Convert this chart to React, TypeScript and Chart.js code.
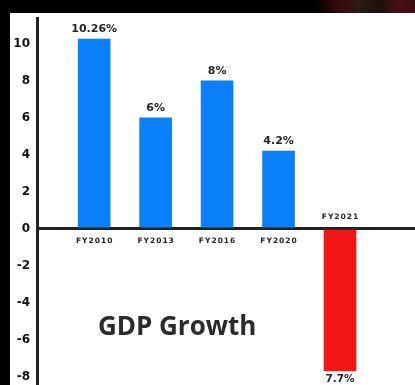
import React, { useEffect, useRef } from "react";
import { Chart, registerables } from "chart.js";

Chart.register(...registerables);

// Fiscal years and their GDP growth rate (%)
const categories = ["FY2010", "FY2013", "FY2016", "FY2020", "FY2021"];
const growth = [10.26, 6, 8, 4.2, -7.7];
const valueLabels = ["10.26%", "6%", "8%", "4.2%", "7.7%"];
const yTicks = [-8, -6, -4, -2, 0, 2, 4, 6, 8, 10];
const title = "GDP Growth";

const BLUE = "#0a80fb";
const RED = "#f31616";
const INK = "#262626";
const FONT = "'Open Sans', 'DejaVu Sans', sans-serif";
const SMALL_FONT = "'DejaVu Sans', sans-serif";

// Dark frame with a white panel behind the chart
const framePlugin = {
  id: "frame",
  beforeDraw(chart: any) {
    const { ctx, width, height } = chart;
    ctx.save();
    ctx.fillStyle = "#000";
    ctx.fillRect(0, 0, width, height);
    const g = ctx.createLinearGradient(315, 0, width, 0);
    g.addColorStop(0, "rgba(0,0,0,1)");
    g.addColorStop(0.25, "#3a0c0c");
    g.addColorStop(0.45, "#2a1c12");
    g.addColorStop(0.65, "#1c1010");
    g.addColorStop(0.85, "#4a0e10");
    g.addColorStop(1, "#3a1010");
    ctx.fillStyle = g;
    ctx.fillRect(315, 0, width - 315, 13);
    ctx.fillStyle = "#ffffff";
    ctx.fillRect(10, 13, width - 10, height - 13);
    ctx.restore();
  },
};

// Value labels, category labels beside the zero line, and the title
const labelsPlugin = {
  id: "barLabels",
  afterDatasetsDraw(chart: any) {
    const { ctx } = chart;
    const meta = chart.getDatasetMeta(0);
    const yScale = chart.scales.y;
    const xScale = chart.scales.x;
    const zero = yScale.getPixelForValue(0);
    ctx.save();
    ctx.textAlign = "center";
    meta.data.forEach((bar: any, i: number) => {
      const v = growth[i];
      const x = bar.x;
      ctx.fillStyle = INK;
      (ctx as any).letterSpacing = "0px";
      if (v >= 0) {
        ctx.font = `bold 11px ${SMALL_FONT}`;
        ctx.textBaseline = "alphabetic";
        ctx.fillText(valueLabels[i], x, bar.y - 7);
      } else {
        ctx.font = `bold 10.5px ${SMALL_FONT}`;
        ctx.textBaseline = "top";
        ctx.fillText(valueLabels[i], x, Math.min(bar.y + 3, chart.height - 11));
      }
      ctx.font = `bold 7.5px ${SMALL_FONT}`;
      (ctx as any).letterSpacing = "1px";
      ctx.textBaseline = "middle";
      ctx.fillText(categories[i], x + 0.5, v >= 0 ? zero + 12 : zero - 12);
    });
    (ctx as any).letterSpacing = "0px";
    ctx.font = `bold 26px ${FONT}`;
    ctx.fillStyle = "#2b2b2b";
    ctx.textBaseline = "middle";
    ctx.fillText(title, xScale.getPixelForValue(1.35), yScale.getPixelForValue(-5.35));
    ctx.restore();
  },
};

export default function App() {
  const canvasRef = useRef<HTMLCanvasElement | null>(null);

  useEffect(() => {
    if (!canvasRef.current) return;
    const chart = new Chart(canvasRef.current, {
      type: "bar",
      data: {
        datasets: [
          {
            label: title,
            data: growth.map((v, i) => ({ x: i, y: v })),
            backgroundColor: growth.map((v) => (v >= 0 ? BLUE : RED)),
            borderWidth: 0,
            barThickness: 32,
          },
        ],
      },
      options: {
        responsive: false,
        animation: false,
        devicePixelRatio: 1,
        layout: { padding: { left: 10, top: 18, right: 0, bottom: 0 } },
        plugins: {
          legend: { display: false },
          tooltip: { enabled: false },
          title: { display: false },
        },
        scales: {
          x: {
            type: "linear",
            display: false,
            offset: false,
            min: -0.93,
            max: 5.22,
          },
          y: {
            min: -8.46,
            max: 11.4,
            afterBuildTicks: (scale: any) => {
              scale.ticks = yTicks.map((v) => ({ value: v }));
            },
            afterFit: (scale: any) => {
              scale.width = 27;
              scale.paddingTop = 0;
              scale.paddingBottom = 0;
            },
            ticks: {
              color: "#111",
              padding: 7,
              font: { family: SMALL_FONT, size: 12, weight: "bold" },
              callback: (v: any) => String(v),
            },
            grid: {
              drawTicks: false,
              color: (c: any) => (c.tick && c.tick.value === 0 ? "#222" : "rgba(0,0,0,0)"),
              lineWidth: (c: any) => (c.tick && c.tick.value === 0 ? 3 : 0),
            },
            border: { display: true, color: "#222", width: 3 },
          },
        },
      },
      plugins: [framePlugin, labelsPlugin],
    });
    return () => chart.destroy();
  }, []);

  return (
    <div style={{ position: "fixed", left: 0, top: 0, width: 415, height: 385 }}>
      <canvas ref={canvasRef} width={415} height={385} style={{ display: "block" }} />
    </div>
  );
}
